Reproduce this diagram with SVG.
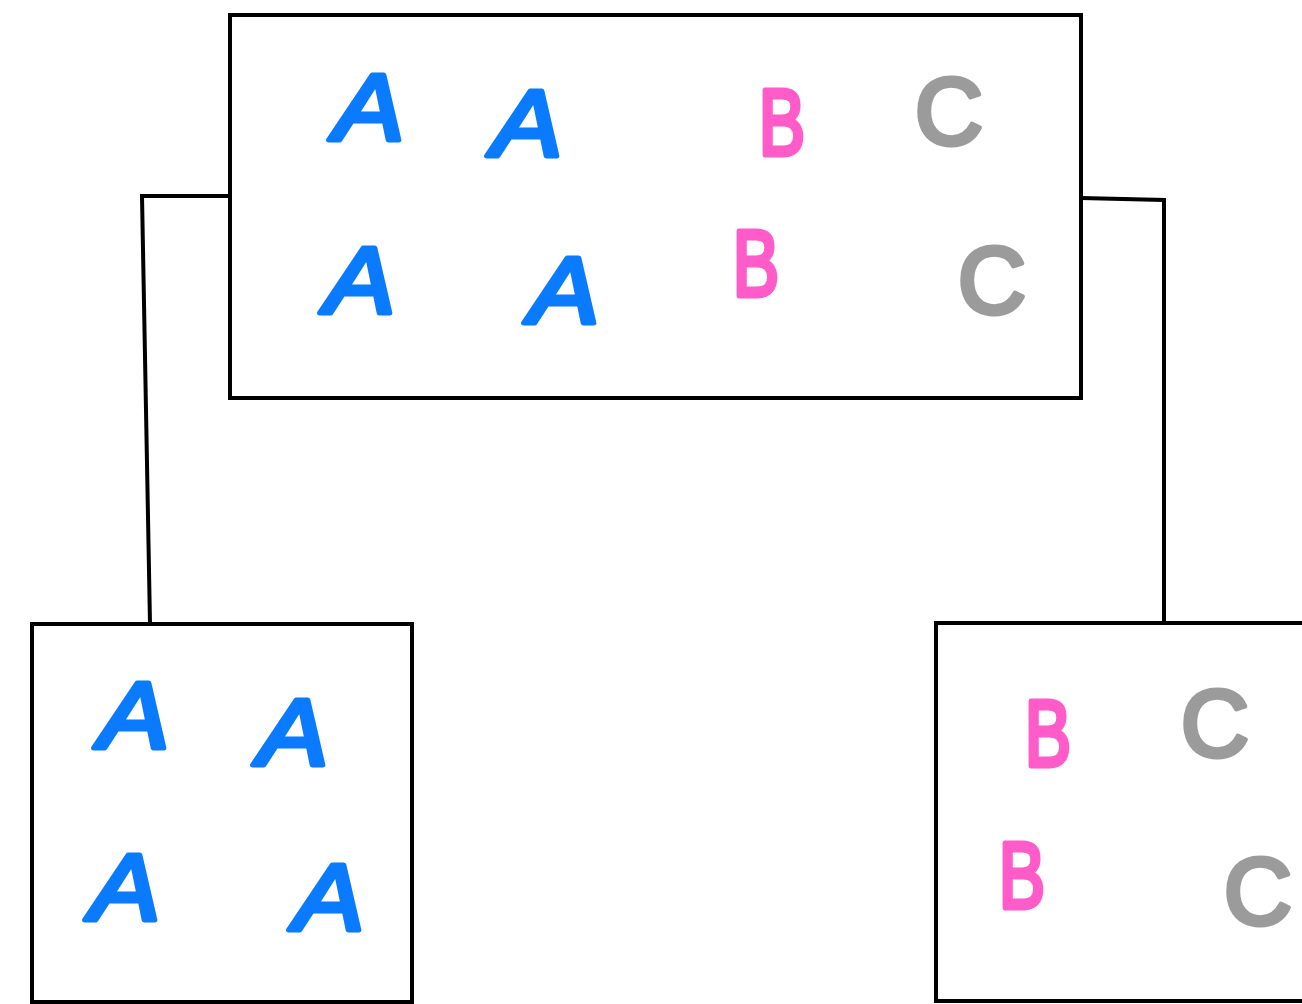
<svg xmlns="http://www.w3.org/2000/svg" width="1302" height="1004" viewBox="0 0 1302 1004">
  <style>
    .box { fill: #ffffff; stroke: #000000; stroke-width: 4; }
    .wire { fill: none; stroke: #000000; stroke-width: 4; stroke-linejoin: miter; }
    .ltr { font-family: "Liberation Sans", Arial, sans-serif; font-size: 94px; text-anchor: middle; stroke-width: 5; stroke-linejoin: round; stroke-linecap: round; }
    .a { fill: #0a7bff; stroke: #0a7bff; font-style: italic; }
    .b { fill: #ff5cc9; stroke: #ff5cc9; }
    .c { fill: #9b9b9b; stroke: #9b9b9b; }
  </style>
  <rect width="1302" height="1004" fill="#ffffff"/>

  <!-- connectors from the parent set to the two subsets -->
  <g id="connectors">
    <polyline class="wire" points="230,196 142,196 150,624"/>
    <polyline class="wire" points="1081,198 1164,200 1164,623"/>
  </g>

  <!-- parent set: A A A A B B C C -->
  <g id="node-all">
    <rect class="box" x="230" y="15" width="851" height="383"/>
    <text class="ltr a" transform="translate(369,140) scale(1.12,1)">A</text>
    <text class="ltr a" transform="translate(527,156) scale(1.12,1)">A</text>
    <text class="ltr a" transform="translate(360,313) scale(1.12,1)">A</text>
    <text class="ltr a" transform="translate(564,323) scale(1.12,1)">A</text>
    <text class="ltr b" transform="translate(782,155) scale(0.74,1)">B</text>
    <text class="ltr b" transform="translate(756,296) scale(0.74,1)">B</text>
    <text class="ltr c" x="949" y="144">C</text>
    <text class="ltr c" x="992" y="313">C</text>
  </g>

  <!-- left subset: A A A A -->
  <g id="node-a">
    <rect class="box" x="32" y="624" width="380" height="378"/>
    <text class="ltr a" transform="translate(134,748) scale(1.12,1)">A</text>
    <text class="ltr a" transform="translate(293,765) scale(1.12,1)">A</text>
    <text class="ltr a" transform="translate(125,920) scale(1.12,1)">A</text>
    <text class="ltr a" transform="translate(329,930) scale(1.12,1)">A</text>
  </g>

  <!-- right subset: B B C C -->
  <g id="node-bc">
    <rect class="box" x="936" y="623" width="380" height="378"/>
    <text class="ltr b" transform="translate(1048,766) scale(0.74,1)">B</text>
    <text class="ltr b" transform="translate(1022,908) scale(0.74,1)">B</text>
    <text class="ltr c" x="1215" y="756">C</text>
    <text class="ltr c" x="1258" y="924">C</text>
  </g>
</svg>
